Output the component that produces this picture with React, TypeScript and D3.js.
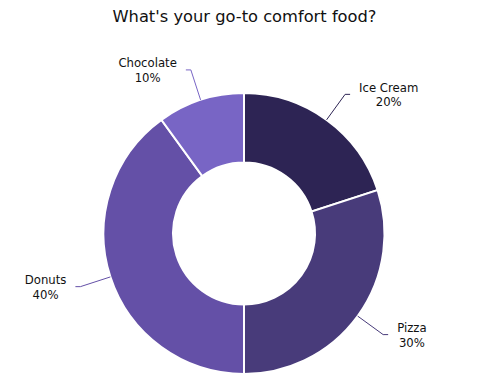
import React, { useEffect, useRef } from 'react';
import * as d3 from 'd3';

const title = "What's your go-to comfort food?";
const foods = ['Ice Cream', 'Pizza', 'Donuts', 'Chocolate'];
const shares = [20, 30, 40, 10];
const colors = ['#2d2454', '#483b7a', '#6450a7', '#7865c5'];

const width = 494;
const height = 392;
const cx = 244;
const cy = 233.5;
const outerR = 140.5;
const innerR = 71;

const App = () => {
  const ref = useRef<SVGSVGElement>(null);

  useEffect(() => {
    const svg = d3.select(ref.current);
    svg.selectAll('*').remove();

    svg.append('text')
      .attr('x', 244.5)
      .attr('y', 22)
      .attr('text-anchor', 'middle')
      .style('font-family', 'DejaVu Sans')
      .style('font-size', '16.3px')
      .attr('fill', '#111')
      .text(title);

    const data = foods.map((f, i) => ({ name: f, value: shares[i], color: colors[i] }));
    const pie = d3.pie<any>().sort(null).value(d => d.value);
    const arcs = pie(data);
    const arc = d3.arc<any>().innerRadius(innerR).outerRadius(outerR);

    const g = svg.append('g').attr('transform', `translate(${cx},${cy})`);
    g.selectAll('path.slice')
      .data(arcs)
      .enter()
      .append('path')
      .attr('class', 'slice')
      .attr('d', arc)
      .attr('fill', d => d.data.color)
      .attr('stroke', '#fff')
      .attr('stroke-width', 2);

    // leader lines + labels
    const elbowR = 172;
    arcs.forEach(a => {
      const mid = (a.startAngle + a.endAngle) / 2;
      const sx = Math.sin(mid), sy = -Math.cos(mid);
      const right = sx > 0;
      const p0 = [outerR * sx, outerR * sy];
      const p1 = [elbowR * sx, elbowR * sy];
      const p2 = [p1[0] + (right ? 5 : -5), p1[1]];
      g.append('polyline')
        .attr('points', [p0, p1, p2].map(p => p.join(',')).join(' '))
        .attr('fill', 'none')
        .attr('stroke', a.data.color)
        .attr('stroke-width', 1);

      const label = g.append('text')
        .attr('text-anchor', 'middle')
        .style('font-family', 'DejaVu Sans')
        .style('font-size', '11.7px')
        .attr('fill', '#111');
      const t1 = label.append('tspan').attr('y', p2[1] - 2.5).text(a.data.name);
      const t2 = label.append('tspan').attr('y', p2[1] + 12).text(`${a.data.value}%`);
      const w = Math.max(
        (t1.node() as SVGTSpanElement).getComputedTextLength(),
        (t2.node() as SVGTSpanElement).getComputedTextLength()
      );
      const tx = right ? p2[0] + 9 + w / 2 : p2[0] - 9 - w / 2;
      t1.attr('x', tx);
      t2.attr('x', tx);
    });
  }, []);

  return (
    <svg
      ref={ref}
      width={width}
      height={height}
      style={{ position: 'absolute', left: 0, top: 0, background: '#fff' }}
    />
  );
};

export default App;
